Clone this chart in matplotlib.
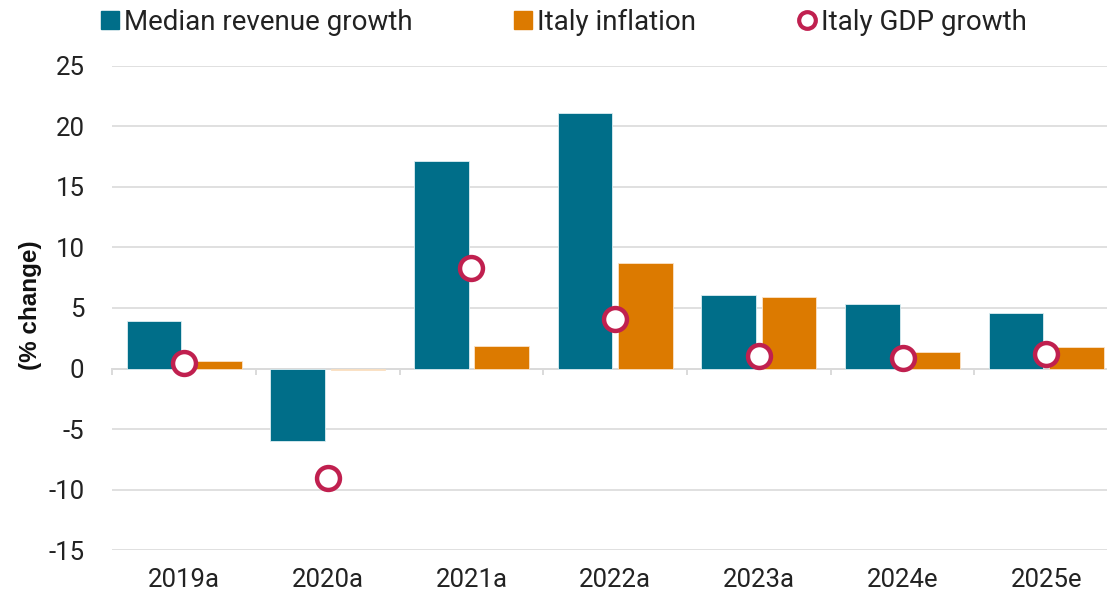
import matplotlib
matplotlib.use("Agg")
import matplotlib.pyplot as plt
import numpy as np
from matplotlib.lines import Line2D

# --- data ---
YEARS = ["2019a", "2020a", "2021a", "2022a", "2023a", "2024e", "2025e"]
REVENUE = [3.9, -6.0, 17.1, 21.1, 6.1, 5.3, 4.6]
INFLATION = [0.6, -0.1, 1.9, 8.7, 5.9, 1.4, 1.8]
GDP = [0.5, -9.0, 8.3, 4.1, 1.0, 0.9, 1.2]

TEAL = "#006E89"
ORANGE = "#DC7A00"
CRIMSON = "#C0204F"
GRID = "#DADADA"
TEXT = "#222222"

plt.rcParams.update({
    "font.family": ["Roboto", "DejaVu Sans"],
    "font.size": 18.5,
    "text.color": TEXT,
    "axes.unicode_minus": False,
})

fig = plt.figure(figsize=(11.07, 5.96), dpi=100)
W, H = 1107, 596
ax = fig.add_axes([112.2 / W, (H - 550.3) / H, (W - 112.2) / W, (550.3 - 65.7) / H])

xs = np.arange(len(YEARS))
bw = 0.38
off = 0.21

ax.bar(xs - off, REVENUE, width=bw, color=TEAL, edgecolor="#DDEEF2", linewidth=0.6, zorder=3)
infl_colors = [ORANGE if v >= 0 else "#EDB56E" for v in INFLATION]
ax.bar(xs + off, INFLATION, width=bw, color=infl_colors, edgecolor="#FBE3C8", linewidth=0.6, zorder=3)
ax.plot(xs, GDP, ls="none", marker="o", ms=16.5, mfc="white", mec=CRIMSON, mew=3.2, zorder=5)

# grid + zero line
ax.set_ylim(-15, 25)
ax.set_yticks(np.arange(-15, 26, 5))
ax.yaxis.grid(True, color=GRID, lw=1.2, zorder=0)
ax.axhline(0, color=GRID, lw=1.4, zorder=2)
# category separator ticks on the zero line
for b in np.arange(-0.5, len(YEARS), 1.0):
    ax.plot([b, b], [0, -0.45], color=GRID, lw=1.4, zorder=2, clip_on=False)

ax.set_xlim(-0.5, -0.5 + (W - 112.2) / 143.7)
ax.set_xticks(xs)
ax.set_xticklabels(YEARS)
ax.tick_params(axis="both", length=0, labelsize=18.5, colors=TEXT)
ax.tick_params(axis="x", pad=13)
ax.tick_params(axis="y", pad=20)
for s in ax.spines.values():
    s.set_visible(False)

fig.text(30 / W, (H - 305) / H, "(% change)", rotation=90, ha="center", va="center",
         fontsize=17.5, fontweight="bold", family=["Liberation Sans", "DejaVu Sans"], color="#111111")

handles = [
    Line2D([], [], ls="none", marker="s", ms=13, mfc=TEAL, mec=TEAL, label="Median revenue growth"),
    Line2D([], [], ls="none", marker="s", ms=13, mfc=ORANGE, mec=ORANGE, label="Italy inflation"),
    Line2D([], [], ls="none", marker="o", ms=12, mfc="white", mec=CRIMSON, mew=3, label="Italy GDP growth"),
]
leg = fig.legend(handles=handles, loc="center", bbox_to_anchor=(563 / W, (H - 22) / H),
                 ncol=3, frameon=False, fontsize=20, handletextpad=0.1, columnspacing=3.6,
                 handlelength=0.8)

fig.savefig("out.png", dpi=100)
